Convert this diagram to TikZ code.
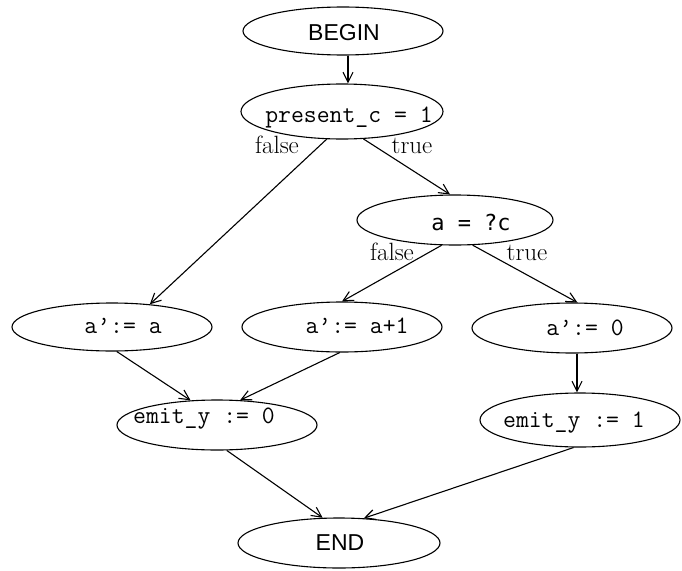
\documentclass[tikz,border=0pt]{standalone}
\usepackage{fontspec}
\usetikzlibrary{arrows.meta,shapes.geometric}
\newfontfamily\lsans{Liberation Sans}
\newfontfamily\dmono{DejaVu Sans Mono}
\begin{document}
\begin{tikzpicture}[x=1pt,y=-1pt,
  ell/.style={draw, ellipse, line width=1.1pt, minimum width=200pt, minimum height=50pt, inner sep=0pt},
  ttx/.style={anchor=base, font=\fontsize{25}{30}\selectfont\ttfamily, inner sep=0pt},
  sfx/.style={anchor=base, font=\fontsize{23}{27}\selectfont\lsans, inner sep=0pt},
  smx/.style={anchor=base, font=\fontsize{22}{26}\selectfont\dmono, inner sep=0pt},
  rmx/.style={anchor=base, font=\fontsize{25}{30}\selectfont\rmfamily, inner sep=0pt},
  arr/.style={-{Straight Barb[length=10pt,width=10pt]}, line width=1.1pt}]
\useasboundingbox (0,0) rectangle (682,570);

% ellipses
\node[ell, minimum height=48pt] (begin) at (343,31) {};
\node[ell, minimum width=202pt, minimum height=55pt] (pres) at (342,111.5) {};
\node[ell, minimum width=196pt] (ac) at (455,220) {};
\node[ell, minimum height=48pt] (a1) at (112,327) {};
\node[ell] (a2) at (342,327) {};
\node[ell] (a3) at (572,328) {};
\node[ell] (e0) at (217,425) {};
\node[ell, minimum height=54pt] (e1) at (580,420) {};
\node[ell, minimum width=202pt] (end) at (339,543) {};

% texts
\node[sfx] (beginT) at (344,40) {BEGIN};
\node[ttx] (presT) at (349,122) {present\_c = 1};
\node[smx] (acT) at (471,230) {a = ?c};
\node[ttx] (a1T) at (123,333) {a’:= a};
\node[ttx] (a2T) at (357,333) {a’:= a+1};
\node[ttx] (a3T) at (585,335) {a’:= 0};
\node[ttx] (e0T) at (204,423) {emit\_y := 0};
\node[ttx] (e1T) at (574,427) {emit\_y := 1};
\node[sfx] (endT) at (340,550) {END};

% branch labels
\node[rmx] (f1) at (277,153) {false};
\node[rmx] (t1) at (412,153) {true};
\node[rmx] (f2) at (392,260) {false};
\node[rmx] (t2) at (527,260) {true};

% connectors
\draw[arr] ([xshift=5pt]begin.south) -- ([xshift=6pt]pres.north);
\draw[arr] (pres.241.4) -- (a1.31.2);
\draw[arr] (pres.308.4) -- (ac.101.3);
\draw[arr] (ac.242.5) -- (a2.90);
\draw[arr] (ac.305.8) -- (a3.78.7);
\draw[arr] (a1.281.3) -- (e0.137.2);
\draw[arr] (a2.265.4) -- (e0.47.4);
\draw[arr] ([xshift=5pt]a3.south) -- ([xshift=-3pt]e1.north);
\draw[arr] (e0.291.8) -- (end.123.2);
\draw[arr] (e1.257.5) -- (end.45);
\end{tikzpicture}
\end{document}
